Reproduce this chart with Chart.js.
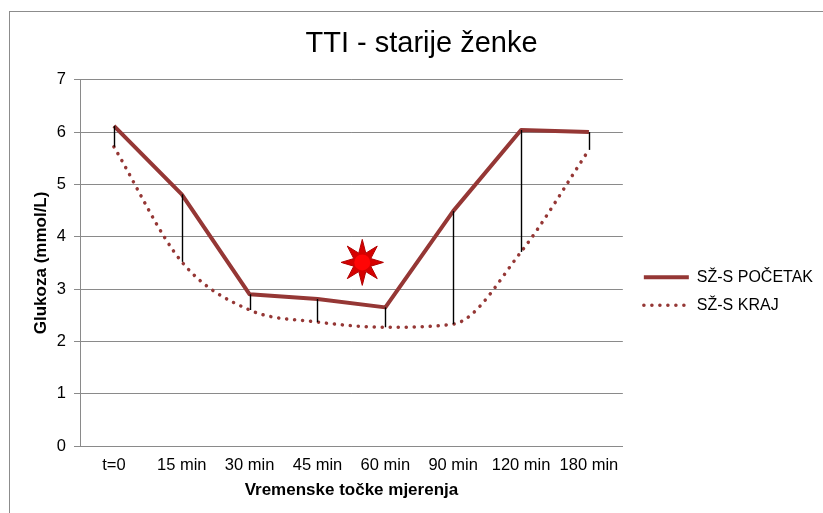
<!DOCTYPE html>
<html>
<head>
<meta charset="utf-8">
<script src="https://cdn.jsdelivr.net/npm/chart.js@4.4.1/dist/chart.umd.min.js"></script>
<style>
  html, body { margin: 0; padding: 0; background: #fff; overflow: hidden; }
  .frame { position: absolute; left: 9px; top: 11px; width: 900px; height: 600px; border-left: 1px solid #8c8c8c; border-top: 1px solid #8c8c8c; }
  .chartBox { position: absolute; left: 0; top: 0; width: 823px; height: 513px; }
</style>
</head>
<body>
<div class="frame"></div>
<div class="chartBox"><canvas id="tti"></canvas></div>
<script>
// vremenske točke i izmjerene vrijednosti glukoze (mmol/L)
const vremena = ['t=0', '15 min', '30 min', '45 min', '60 min', '90 min', '120 min', '180 min'];
const pocetak = [6.12, 4.81, 2.90, 2.81, 2.65, 4.49, 6.04, 6.00];
const kraj = [5.72, 3.52, 2.60, 2.37, 2.27, 2.33, 3.71, 5.66];
const yMin = 0;
const yMax = 7;
const yKorak = 1;
// oznaka zvijezde između 45 i 60 min
const zvijezda = { x: 3.66, y: 3.51 };

const boja = '#953735';
const siva = '#8a8a8a';

Chart.defaults.font.family = "'Liberation Sans', Arial, sans-serif";
Chart.defaults.color = '#000';

// crne okomite linije između dvije serije
const dropLines = {
  id: 'dropLines',
  afterDatasetsDraw(chart) {
    const { ctx, scales: { x, y } } = chart;
    ctx.save();
    ctx.strokeStyle = '#000';
    ctx.lineWidth = 1.4;
    pocetak.forEach((v, i) => {
      const px = Math.round(x.getPixelForValue(i)) + 0.5;
      ctx.beginPath();
      ctx.moveTo(px, y.getPixelForValue(v));
      ctx.lineTo(px, y.getPixelForValue(kraj[i]));
      ctx.stroke();
    });
    ctx.restore();
  }
};

const zvijezdaPlugin = {
  id: 'zvijezda',
  afterDraw(chart) {
    const { ctx, scales: { x, y } } = chart;
    const cx = x.getPixelForValue(zvijezda.x);
    const cy = y.getPixelForValue(zvijezda.y);
    ctx.save();
    ctx.beginPath();
    for (let i = 0; i < 16; i++) {
      const r = i % 2 ? 10 : 23;
      const a = -Math.PI / 2 + i * Math.PI / 8;
      const px = cx + Math.cos(a) * r * 0.92;
      const py = cy + Math.sin(a) * r;
      if (i === 0) ctx.moveTo(px, py); else ctx.lineTo(px, py);
    }
    ctx.closePath();
    ctx.fillStyle = '#d60000';
    ctx.fill();
    ctx.strokeStyle = '#b00000';
    ctx.lineWidth = 1;
    ctx.stroke();
    ctx.beginPath();
    ctx.arc(cx, cy, 8, 0, Math.PI * 2);
    ctx.fillStyle = '#ff0505';
    ctx.fill();
    ctx.restore();
  }
};

// legenda crta liniju sa stilom same serije (puna / točkasta)
function legendLabels(chart) {
  const items = Chart.defaults.plugins.legend.labels.generateLabels(chart);
  items.forEach(item => {
    const ds = chart.data.datasets[item.datasetIndex];
    item.lineWidth = ds.borderWidth;
    item.lineDash = ds.borderDash || [];
    item.lineCap = ds.borderCapStyle || 'butt';
    item.strokeStyle = ds.borderColor;
  });
  return items;
}

new Chart(document.getElementById('tti'), {
  type: 'line',
  data: {
    labels: vremena,
    datasets: [
      {
        label: 'SŽ-S POČETAK',
        data: pocetak,
        borderColor: boja,
        backgroundColor: boja,
        borderWidth: 4,
        borderJoinStyle: 'round',
        pointRadius: 0,
        tension: 0
      },
      {
        label: 'SŽ-S KRAJ',
        data: kraj,
        borderColor: boja,
        backgroundColor: boja,
        borderWidth: 3.5,
        borderDash: [0.1, 7.9],
        borderCapStyle: 'round',
        pointRadius: 0,
        cubicInterpolationMode: 'monotone'
      }
    ]
  },
  options: {
    responsive: true,
    maintainAspectRatio: false,
    animation: false,
    layout: { padding: { left: 20, right: 0, top: 0, bottom: 0 } },
    plugins: {
      title: {
        display: true,
        text: 'TTI - starije ženke',
        color: '#000',
        font: { size: 29, weight: 'normal' },
        padding: { top: 27, bottom: 18 }
      },
      legend: {
        position: 'right',
        title: { display: true, text: '', font: { size: 12 }, padding: { top: 55, bottom: 0 } },
        labels: {
          usePointStyle: true,
          pointStyle: 'line',
          pointStyleWidth: 45,
          color: '#000',
          font: { size: 16 },
          padding: 12,
          generateLabels: legendLabels
        }
      },
      tooltip: { enabled: false }
    },
    scales: {
      x: {
        offset: true,
        grid: { display: false, drawTicks: false },
        border: { color: siva },
        ticks: { font: { size: 16.5 }, padding: 10, maxRotation: 0, autoSkip: false },
        title: {
          display: true,
          text: 'Vremenske točke mjerenja',
          font: { size: 17, weight: 'bold' },
          padding: { top: 0, bottom: 12 }
        },
        afterFit(s) { s.height = 67; }
      },
      y: {
        min: yMin,
        max: yMax,
        ticks: { stepSize: yKorak, font: { size: 16.5 }, padding: 8 },
        grid: { color: siva, tickLength: 6 },
        border: { color: siva },
        title: {
          display: true,
          text: 'Glukoza (mmol/L)',
          font: { size: 17, weight: 'bold' },
          padding: { top: 11, bottom: 0 }
        },
        afterFit(s) { s.width = 60; }
      },
      // prazan razmak između područja grafa i legende
      razmak: {
        type: 'linear',
        position: 'right',
        display: false,
        afterFit(s) { s.width = 9; }
      }
    }
  },
  plugins: [dropLines, zvijezdaPlugin]
});
</script>
</body>
</html>
